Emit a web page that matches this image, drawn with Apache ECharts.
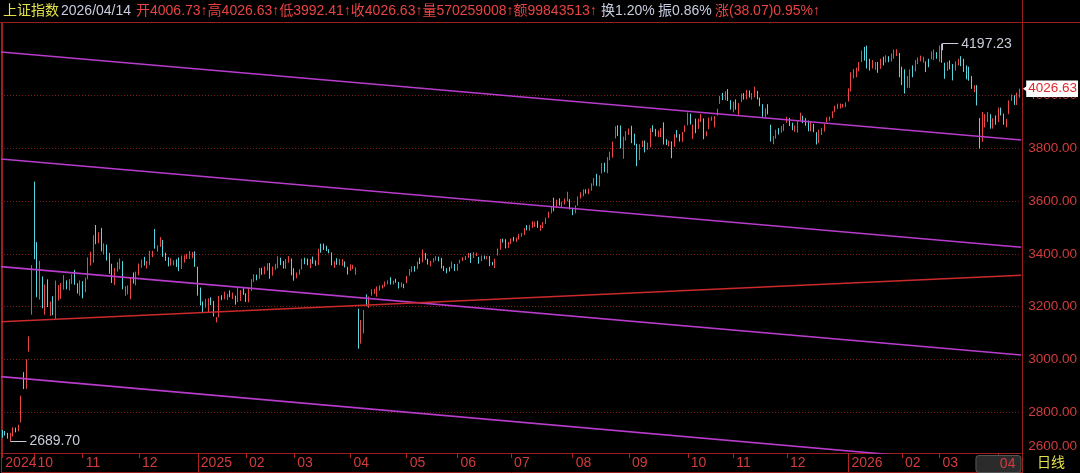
<!DOCTYPE html>
<html><head><meta charset="utf-8">
<script src="https://cdn.jsdelivr.net/npm/echarts@6/dist/echarts.min.js"></script>
<style>html,body{margin:0;padding:0;background:#000}#c{width:1080px;height:473px}</style>
</head><body><div id="c"></div>
<script>
// ---- data: [day, open, close, low, high] per month ----
const m2024_09 = [[11,2729,2721.80,2703,2733],[12,2724,2717.12,2712,2729],[13,2717,2704.09,2700,2722],[18,2705,2717.28,2689.70,2722],[19,2716,2736.02,2708,2743],[20,2737,2736.81,2724,2742],[23,2734,2748.92,2728,2753],[24,2770,2863.13,2761,2863.13],[25,2901,2896.31,2888,2952],[26,2893,3000.95,2889,3000.95],[27,3049,3087.53,3030,3087.53],[30,3198,3336.50,3170,3358]];
const m2024_10 = [[8,3674.40,3489.78,3380,3674.40],[9,3445,3258.86,3236,3445],[10,3254,3301.93,3227,3374],[11,3296,3217.74,3194,3315],[14,3212,3284.32,3170,3284.5],[15,3284,3201.29,3199,3304],[16,3180,3202.95,3165,3220],[17,3212,3169.38,3168,3240],[18,3159,3261.56,3152.82,3299],[21,3261,3268.11,3224,3282],[22,3264,3285.87,3230,3290],[23,3278,3302.80,3265,3320],[24,3294,3280.26,3266,3300],[25,3271,3299.70,3262,3305],[28,3294,3322.20,3286,3323],[29,3325,3286.41,3283,3340],[30,3276,3266.24,3250,3289],[31,3262,3279.82,3242,3300]];
const m2024_11 = [[1,3275,3272.01,3232,3297],[4,3269,3310.21,3255,3311],[5,3309,3386.99,3304,3387],[6,3380,3383.81,3356,3409],[7,3384,3470.66,3367,3471],[8,3470,3452.30,3437,3509.82],[11,3442,3470.07,3441,3482],[12,3477,3421.97,3410,3499],[13,3413,3439.28,3397,3440],[14,3433,3379.84,3375,3436],[15,3383,3330.73,3325,3404],[18,3336,3323.85,3290,3363],[19,3315,3346.01,3282,3347],[20,3338,3367.99,3333,3369],[21,3365,3370.40,3342,3383],[22,3359,3267.19,3266,3373],[25,3259,3263.76,3241,3278],[26,3257,3259.76,3247,3281],[27,3257,3309.78,3228,3311],[28,3311,3295.70,3288,3330],[29,3283,3326.46,3281,3333]];
const m2024_12 = [[2,3320,3363.98,3319,3364],[3,3362,3378.81,3348,3379],[4,3377,3364.65,3356,3389],[5,3357,3368.07,3345,3373],[6,3366,3404.08,3358,3412],[9,3401,3402.53,3388,3412],[10,3494,3422.66,3420,3494.86],[11,3418,3432.49,3409,3433],[12,3434,3461.50,3427,3464],[13,3443,3391.88,3389,3453],[16,3389,3386.33,3374,3405],[17,3386,3361.49,3353,3388],[18,3361,3382.21,3356,3384],[19,3362,3370.03,3357,3376],[20,3369,3368.07,3351,3380],[23,3367,3351.26,3335,3387],[24,3350,3393.53,3343,3394],[25,3391,3393.35,3367,3395],[26,3392,3398.08,3381,3401],[27,3397,3400.14,3381,3411],[30,3399,3407.33,3384,3408],[31,3407,3351.76,3351,3410]];
const m2025_01 = [[2,3347,3262.56,3242,3352],[3,3266,3211.43,3205,3273],[6,3207,3206.92,3178,3220],[7,3204,3229.64,3196,3230],[8,3227,3230.17,3180,3232],[9,3226,3211.39,3206,3236],[10,3209,3168.52,3163,3222],[13,3153,3160.76,3140.98,3161],[14,3161,3240.94,3160,3241],[15,3237,3227.12,3225,3244],[16,3235,3236.03,3228,3257],[17,3230,3241.82,3226,3248],[20,3248,3244.38,3236,3262],[21,3242,3242.62,3229,3254],[22,3239,3213.62,3208,3242],[23,3222,3230.16,3218,3272],[24,3230,3252.63,3222,3263],[27,3254,3250.60,3245,3270]];
const m2025_02 = [[5,3239,3229.49,3218,3251],[6,3227,3270.66,3217,3271],[7,3267,3303.67,3260,3305],[10,3301,3322.17,3294,3323],[11,3320,3318.06,3300,3322],[12,3316,3346.39,3306,3347],[13,3343,3332.48,3321,3348],[14,3330,3346.72,3323,3353],[17,3347,3355.83,3337,3365],[18,3358,3324.49,3306,3366],[19,3320,3351.54,3318,3352],[20,3347,3350.78,3340,3363],[21,3351,3379.11,3346,3391],[24,3381,3373.03,3358,3386],[25,3364,3346.04,3345,3373],[26,3347,3380.21,3344,3381],[27,3380,3388.06,3367,3392],[28,3382,3320.90,3319,3383]];
const m2025_03 = [[3,3332,3316.93,3299,3346],[4,3310,3324.21,3308,3330],[5,3322,3341.96,3321,3342],[6,3344,3381.10,3341,3382],[7,3375,3372.55,3361,3386],[10,3373,3366.16,3357,3383],[11,3354,3379.83,3346,3381],[12,3385,3371.92,3363,3390],[13,3369,3358.73,3355,3376],[14,3359,3419.56,3358,3420],[17,3428,3426.43,3405,3439],[18,3430,3429.76,3415,3439.49],[19,3428,3426.43,3411,3431],[20,3417,3408.95,3403,3418],[21,3405,3364.83,3357,3405.5],[24,3359,3370.03,3347,3373],[25,3370,3369.98,3359,3384],[26,3365,3368.70,3357,3381],[27,3359,3373.75,3355,3381],[28,3369,3351.31,3349,3372],[31,3344,3335.75,3322,3351]];
const m2025_04 = [[1,3340,3348.44,3336,3361],[2,3344,3350.13,3343,3359],[3,3324,3342.01,3321,3349],[7,3193,3096.58,3040.69,3193],[8,3065,3145.55,3060,3150],[9,3134,3186.81,3099,3188],[10,3238,3223.64,3202,3247],[11,3202,3238.23,3196,3239],[14,3244,3262.81,3242,3266],[15,3256,3267.66,3249,3268],[16,3257,3276.00,3238,3277],[17,3268,3280.34,3261,3281],[18,3275,3276.73,3269,3283],[21,3281,3291.43,3276,3295],[22,3292,3299.76,3285,3300],[23,3302,3296.36,3284,3312],[24,3295,3297.29,3284,3299],[25,3299,3295.06,3291,3306],[28,3293,3288.41,3269,3294],[29,3286,3286.65,3274,3292],[30,3282,3279.03,3270,3287]];
const m2025_05 = [[6,3291,3316.11,3289,3317],[7,3336,3342.67,3318,3343],[8,3331,3352.00,3331,3353],[9,3349,3342.00,3333,3354],[12,3345,3369.24,3343,3371],[13,3375,3374.87,3362,3386],[14,3374,3403.95,3368,3417],[15,3395,3380.82,3378,3404],[16,3377,3367.46,3360,3382],[19,3359,3367.58,3353,3374],[20,3368,3380.48,3368,3384],[21,3382,3387.57,3375,3392],[22,3384,3380.19,3372,3390],[23,3378,3348.37,3345,3385],[26,3347,3346.84,3335,3355],[27,3341,3340.69,3327,3346],[28,3341,3339.93,3334,3351],[29,3345,3363.45,3345,3371],[30,3359,3347.49,3336,3362]];
const m2025_06 = [[3,3346,3361.98,3336,3363],[4,3366,3376.20,3364,3378],[5,3378,3384.10,3373,3388],[6,3382,3385.36,3377,3392],[9,3389,3399.77,3385,3404],[10,3401,3384.82,3366,3404],[11,3386,3402.32,3385,3407],[12,3394,3402.66,3392,3405],[13,3378,3377.00,3363,3389],[16,3373,3388.73,3373,3394],[17,3389,3387.40,3380,3394],[18,3385,3388.81,3380,3392],[19,3386,3362.11,3354,3392],[20,3364,3359.90,3357,3370],[23,3354,3381.58,3347,3382],[24,3396,3420.57,3394,3421],[25,3422,3455.97,3416,3457],[26,3455,3448.45,3443,3458],[27,3449,3424.23,3421,3456],[30,3425,3444.43,3423,3445]];
const m2025_07 = [[1,3443,3457.75,3438,3459],[2,3458,3454.79,3448,3465],[3,3453,3461.15,3446,3462],[4,3461,3472.32,3455,3476],[7,3471,3473.13,3465,3480],[8,3473,3497.48,3472,3498],[9,3500,3493.05,3490,3509],[10,3491,3509.68,3488,3510],[11,3508,3510.18,3499,3524],[14,3506,3519.65,3503,3522],[15,3523,3505.00,3499,3526],[16,3500,3503.78,3488,3510],[17,3502,3516.83,3498,3521],[18,3519,3534.48,3514,3538],[21,3539,3559.79,3536,3560],[22,3563,3581.86,3554,3582],[23,3586,3582.30,3562,3613],[24,3578,3605.73,3575,3606],[25,3605,3593.66,3584,3611],[28,3590,3597.94,3577,3598],[29,3598,3609.71,3587,3610],[30,3612,3615.72,3600,3636],[31,3605,3573.21,3569,3608]];
const m2025_08 = [[1,3569,3559.95,3547,3575],[4,3560,3583.31,3554,3584],[5,3584,3617.60,3583,3618],[6,3615,3633.99,3610,3634],[7,3636,3639.67,3619,3645],[8,3636,3635.13,3629,3645],[11,3637,3647.55,3627,3648],[12,3648,3665.92,3640,3668],[13,3667,3683.46,3659,3688],[14,3681,3666.44,3658,3704],[15,3657,3696.77,3656,3698],[18,3712,3728.03,3705,3745],[19,3729,3727.29,3710,3746],[20,3716,3766.21,3706,3767],[21,3764,3771.10,3755,3788],[22,3768,3825.76,3765,3826],[25,3838,3883.56,3838,3884],[26,3877,3868.38,3847,3888],[27,3871,3800.35,3800,3887],[28,3795,3843.60,3761,3845],[29,3833,3857.93,3830,3866]];
const m2025_09 = [[1,3858,3875.53,3851,3876],[2,3876,3858.13,3820,3886],[3,3856,3813.56,3812,3856],[4,3814,3765.88,3733,3818],[5,3764,3812.51,3756,3816],[8,3814,3826.84,3805,3830],[9,3824,3807.29,3785,3830],[10,3804,3812.22,3795,3822],[11,3809,3875.31,3804,3876],[12,3875,3870.60,3862,3888],[15,3864,3860.50,3846,3874],[16,3857,3861.87,3843,3868],[17,3854,3876.34,3843,3877],[18,3881,3831.66,3815,3899],[19,3830,3820.09,3813,3835],[22,3820,3828.58,3808,3830],[23,3825,3821.83,3763,3827],[24,3813,3853.64,3806,3854],[25,3857,3853.30,3841,3870],[26,3851,3828.11,3826,3854],[29,3827,3862.53,3825,3863],[30,3866,3882.78,3862,3887]];
const m2025_10 = [[9,3897,3933.97,3888,3936],[10,3926,3897.03,3891,3932],[13,3838,3889.50,3836,3891],[14,3895,3865.23,3858,3913],[15,3874,3912.21,3874,3913],[16,3910,3916.23,3900,3931],[17,3912,3839.76,3835,3914],[20,3847,3863.89,3846,3865],[21,3875,3916.33,3873,3917],[22,3911,3913.76,3905,3921],[23,3898,3922.41,3880,3923],[24,3932,3950.31,3925,3951],[27,3970,3996.94,3969,3999],[28,3995,3988.22,3983,4010.73],[29,3989,4016.33,3983,4017],[30,4011,3986.90,3980,4025],[31,3975,3954.79,3947,3983]];
const m2025_11 = [[3,3952,3976.52,3937,3977],[4,3971,3960.19,3947,3986],[5,3937,3969.25,3928,3972],[6,3977,4007.76,3976,4008],[7,3998,3997.56,3985,4010],[10,3998,4018.60,3986,4022],[11,4019,4002.76,3993,4020],[12,3998,4000.14,3985,4010],[13,3996,4029.50,3994,4034.42],[14,4017,3990.49,3986,4018],[17,3982,3972.03,3960,3993],[18,3965,3939.81,3920,3968],[19,3937,3946.74,3918,3952],[20,3966,3931.05,3929,3968],[21,3880,3834.89,3826,3890],[24,3830,3836.77,3816,3847],[25,3841,3870.02,3837,3871],[26,3867,3864.18,3853,3877],[27,3866,3875.26,3860,3885],[28,3867,3888.60,3866,3893]];
const m2025_12 = [[1,3899,3914.01,3897,3920],[2,3910,3897.71,3885,3916],[3,3892,3878.00,3869,3898],[4,3870,3875.79,3863,3887],[5,3876,3902.81,3860,3904],[8,3908,3924.08,3906,3936],[9,3920,3909.52,3896,3924],[10,3903,3900.50,3886,3915],[11,3896,3873.32,3865,3906],[12,3869,3889.35,3865,3903],[15,3887,3867.92,3862,3893],[16,3857,3824.81,3815,3862],[17,3824,3870.28,3820,3871],[18,3865,3876.37,3851,3878],[19,3866,3890.45,3864,3893],[22,3905,3917.36,3900,3918],[23,3915,3919.98,3905,3921],[24,3920,3940.95,3915,3941],[25,3941,3959.62,3937,3962],[26,3958,3963.68,3950,3970],[29,3962,3965.28,3951,3970],[30,3962,3965.12,3955,3969],[31,3965,3968.84,3957,3975]];
const m2026_01 = [[5,3980,4023.42,3978,4028],[6,4020,4083.67,4016,4089],[7,4083,4085.77,4065,4101],[8,4072,4090,4070,4106],[9,4094,4120,4092,4128],[12,4128,4165,4127,4171],[13,4168,4138,4133,4185],[14,4151,4126,4103,4190],[15,4138,4112,4095,4140],[16,4108,4130,4103,4135],[19,4112,4120,4098,4127],[20,4126,4104,4087,4128],[21,4105,4130,4102,4140],[22,4143,4125,4115,4148],[23,4130,4148,4126,4153],[26,4145,4135,4127,4150],[27,4135,4155,4130,4160],[28,4142,4170,4140,4175],[29,4155,4172,4150,4176],[30,4160,4085,4070,4162]];
const m2026_02 = [[2,4090,4060,4040,4110],[3,4060,4030,4008,4100],[4,4035,4060,4030,4075],[5,4035,4095,4030,4100],[6,4110,4080,4070,4115],[9,4095,4130,4092,4135],[10,4128,4140,4120,4145],[11,4135,4145,4130,4152],[12,4130,4142,4125,4148],[13,4128,4105,4090,4130],[24,4135,4115,4108,4140],[25,4140,4165,4138,4168],[26,4150,4170,4135,4175],[27,4158,4150,4140,4165]];
const m2026_03 = [[2,4130,4185,4128,4190],[3,4190,4140,4125,4197.23],[4,4120,4075,4064,4125],[5,4098,4122,4094,4128],[6,4128,4106,4100,4134],[9,4115,4065,4058,4120],[10,4100,4125,4095,4130],[11,4120,4135,4115,4140],[12,4145,4120,4112,4150],[13,4135,4095,4090,4140],[16,4110,4070,4062,4115],[17,4105,4065,4057,4110],[18,4070,4030,4026,4075],[19,4020,4035,4013,4040],[20,4035,3975,3963,4040],[23,3910,3820,3800,3915],[24,3830,3925,3825,3938],[25,3885,3918,3880,3930],[26,3905,3930,3900,3938],[27,3925,3885,3875,3930],[30,3880,3905,3875,3915],[31,3915,3895,3890,3925]];
const m2026_04 = [[1,3905,3950,3900,3955],[2,3945,3935,3925,3955],[3,3925,3895,3890,3932],[7,3885,3905,3880,3912],[8,3935,3975,3930,3982],[9,3985,3998,3980,4005],[10,4000,3980,3965,4002],[13,3972,3988.56,3965,4012],[14,4006.73,4026.63,3992.41,4026.63]];

const months = [['2024-09',m2024_09],['2024-10',m2024_10],['2024-11',m2024_11],['2024-12',m2024_12],['2025-01',m2025_01],['2025-02',m2025_02],['2025-03',m2025_03],['2025-04',m2025_04],['2025-05',m2025_05],['2025-06',m2025_06],['2025-07',m2025_07],['2025-08',m2025_08],['2025-09',m2025_09],['2025-10',m2025_10],['2025-11',m2025_11],['2025-12',m2025_12],['2026-01',m2026_01],['2026-02',m2026_02],['2026-03',m2026_03],['2026-04',m2026_04]];

// trend lines drawn in the software: [value at left edge, value at right edge]
const trendMagenta = [[4165.6,3832.0],[3760.0,3425.3],[3352.0,3017.0],[2935.0,2596.0]];
const trendRed = [[3143.3,3319.0]];
// y-axis gridline values
const yTicks = [2800,3000,3200,3400,3600,3800,4000];
const yRange = [2645.6,4275.6];
// header extras
const volume = '570259008', amount = '99843513', turnover = '1.20%';

// ---- build ----
const dates = [], ohlc = [];
months.forEach(([ym, rows]) => rows.forEach(r => {
  dates.push(ym + '-' + String(r[0]).padStart(2,'0'));
  ohlc.push([r[1], r[2], r[3], r[4]]);
}));
const N = dates.length;
const labelIdx = new Set([0]); const yearIdx = new Set();
for (let i = 1; i < N; i++) {
  if (dates[i].slice(0,7) !== dates[i-1].slice(0,7)) {
    labelIdx.add(i);
    if (dates[i].slice(5,7) === '01') yearIdx.add(i);
  }
}
let lastMonthStart = 0;
for (let i = N-1; i > 0; i--) { if (dates[i].slice(0,7) !== dates[i-1].slice(0,7)) { lastMonthStart = i; break; } }
let hiI = 0, loI = 0;
ohlc.forEach((d,i) => { if (d[3] > ohlc[hiI][3]) hiI = i; if (d[2] < ohlc[loI][2]) loI = i; });
const last = ohlc[N-1], prevClose = ohlc[N-2][1];
const chg = last[1] - prevClose;

const FONT = '"Liberation Sans", "Noto Sans CJK SC", sans-serif';
const RED = '#ec4646', CYAN = '#56d6de', AXR = '#d23c3c', FRAME = '#9a1f1f';

const xData = dates.map((d,i) => i === lastMonthStart ? {value:d, textStyle:{align:'center', padding:0}} : d);

const chart = echarts.init(document.getElementById('c'), null, {renderer:'canvas'});
const trendSeries = [];
trendMagenta.forEach(t => trendSeries.push({type:'line', xAxisIndex:1, yAxisIndex:0, data:[[-0.5,t[0]],[N-0.5,t[1]]], symbol:'none', silent:true, clip:true, z:4, lineStyle:{color:'#b83ccc', width:1.6}}));
trendRed.forEach(t => trendSeries.push({type:'line', xAxisIndex:1, yAxisIndex:0, data:[[-0.5,t[0]],[N-0.5,t[1]]], symbol:'none', silent:true, clip:true, z:4, lineStyle:{color:'#cc2a2a', width:1.5}}));

const annoLabel = {color:'#c8ccd8', fontSize:14, fontFamily:FONT, position:'end', distance:3};
chart.setOption({
  backgroundColor:'#000',
  animation:false,
  textStyle:{fontFamily:FONT},
  grid:{left:1, right:58, top:23, bottom:20},
  xAxis:[
    {type:'category', data:xData, boundaryGap:true, position:'bottom',
     axisLine:{show:true, lineStyle:{color:FRAME}},
     axisTick:{show:true, alignWithLabel:true, length:5, interval:(i)=>labelIdx.has(i), lineStyle:{color:'#b02424'}},
     axisLabel:{interval:(i)=>labelIdx.has(i), align:'left', padding:[0,0,0,3], margin:3, color:AXR, fontSize:14, fontFamily:FONT,
       formatter:(v,i)=>{ if (i===0) return v.slice(0,4); const m=v.slice(5,7); if (m==='01') return v.slice(0,4); if (i===lastMonthStart) return '{hl|'+m+'}'; return m; },
       rich:{hl:{color:AXR, fontSize:14, fontFamily:FONT, width:34, align:'right', padding:[1,5,1,5], backgroundColor:'#2b2b2b', borderColor:'#555', borderWidth:1, borderRadius:3}}},
     splitLine:{show:false}},
    {type:'value', min:-0.5, max:N-0.5, show:false},
    {type:'category', data:dates, boundaryGap:true, position:'bottom', axisLine:{show:false}, axisLabel:{show:false},
     axisTick:{show:true, alignWithLabel:true, length:19, interval:(i)=>yearIdx.has(i), lineStyle:{color:'#b02424'}}, splitLine:{show:false}}
  ],
  yAxis:[{type:'value', position:'right', min:yRange[0], max:yRange[1],
    axisLine:{show:true, lineStyle:{color:FRAME}},
    axisTick:{show:false, customValues:yTicks},
    axisLabel:{customValues:[yRange[0]].concat(yTicks), margin:7, color:AXR, fontSize:13.5, fontFamily:FONT,
      formatter:(v)=> v===yRange[0] ? '{lo|'+(Math.floor(v/200)*200).toFixed(2)+'}' : v.toFixed(2),
      rich:{lo:{color:AXR, fontSize:13.5, fontFamily:FONT, padding:[0,0,14,0]}}},
    splitLine:{show:true, lineStyle:{color:'#7c1c1c', type:[1,2], width:1}}}],
  series:[
    {type:'candlestick', xAxisIndex:0, yAxisIndex:0, data:ohlc, barWidth:1, z:3,
     itemStyle:{color:RED, color0:CYAN, borderColor:RED, borderColor0:CYAN, borderWidth:1},
     markLine:{symbol:'none', silent:true, animation:false, z:6,
       data:[
         [{coord:[hiI, ohlc[hiI][3]], lineStyle:{color:'#c8ccd8', width:1, type:'solid'}, label:Object.assign({show:true, formatter:ohlc[hiI][3].toFixed(2)}, annoLabel)}, {coord:[hiI+6, ohlc[hiI][3]]}],
         [{coord:[hiI, ohlc[hiI][3]], lineStyle:{color:'#c8ccd8', width:1, type:'solid'}, label:{show:false}}, {coord:[hiI, ohlc[hiI][3]-25]}],
         [{coord:[loI, ohlc[loI][2]], lineStyle:{color:'#c8ccd8', width:1, type:'solid'}, label:Object.assign({show:true, formatter:ohlc[loI][2].toFixed(2), padding:[0,0,16,0]}, annoLabel)}, {coord:[loI+6, ohlc[loI][2]]}],
         {yAxis:last[1], lineStyle:{color:'rgba(0,0,0,0)', width:0, type:'solid'}, label:{show:true, position:'end', distance:5, formatter:last[1].toFixed(2), color:'#e02828', backgroundColor:'#ffffff', padding:[2,1,1,2], fontSize:13.5, fontFamily:FONT, opacity:1}}
       ]},
     markPoint:{silent:true, animation:false, z:6,
       data:[{coord:[N-1, last[1]], symbol:'triangle', symbolRotate:90, symbolSize:[8,6], symbolOffset:[6,0], itemStyle:{color:'#ffffff'}, label:{show:false}}]}},
  ].concat(trendSeries),
  graphic:[
    {type:'line', shape:{x1:0,y1:22.5,x2:1080,y2:22.5}, style:{stroke:FRAME, lineWidth:1}, silent:true},
    {type:'line', shape:{x1:1022.5,y1:0,x2:1022.5,y2:473}, style:{stroke:FRAME, lineWidth:1}, silent:true},
    {type:'line', shape:{x1:1.5,y1:22,x2:1.5,y2:473}, style:{stroke:FRAME, lineWidth:1}, silent:true},
    {type:'line', shape:{x1:1,y1:472.5,x2:1022,y2:472.5}, style:{stroke:FRAME, lineWidth:1}, silent:true},
    {type:'text', x:3, y:11, style:{text:'上证指数', fill:'#e2e24a', font:'14px '+FONT, textVerticalAlign:'middle'}, silent:true},
    {type:'text', x:61, y:11, style:{text:dates[N-1].replace(/-/g,'/'), fill:'#c8cce0', font:'14px '+FONT, textVerticalAlign:'middle'}, silent:true},
    {type:'text', x:136, y:11, style:{text:'开'+last[0].toFixed(2)+'↑高'+last[3].toFixed(2)+'↑低'+last[2].toFixed(2)+'↑收'+last[1].toFixed(2)+'↑量'+volume+'↑额'+amount+'↑', fill:'#e84444', font:'14px '+FONT, textVerticalAlign:'middle'}, silent:true},
    {type:'text', x:601, y:11, style:{text:'换'+turnover, fill:'#c8cce0', font:'14px '+FONT, textVerticalAlign:'middle'}, silent:true},
    {type:'text', x:658, y:11, style:{text:'振'+((last[3]-last[2])/prevClose*100).toFixed(2)+'%', fill:'#c8cce0', font:'14px '+FONT, textVerticalAlign:'middle'}, silent:true},
    {type:'text', x:715, y:11, style:{text:'涨('+chg.toFixed(2)+')'+(chg/prevClose*100).toFixed(2)+'%↑', fill:'#e84444', font:'14px '+FONT, textVerticalAlign:'middle'}, silent:true},
    {type:'text', x:1037, y:463, style:{text:'日线', fill:'#e2e24a', font:'14px '+FONT, textVerticalAlign:'middle'}, silent:true}
  ]
});
</script></body></html>
